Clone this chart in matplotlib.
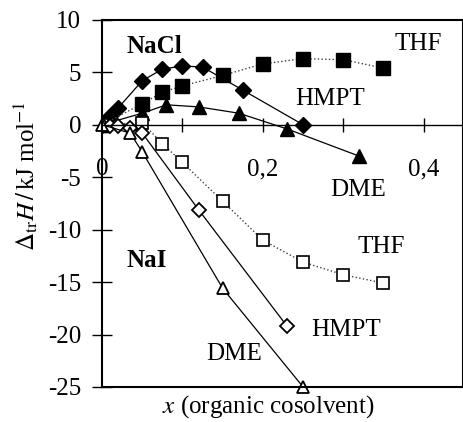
import numpy as np
import matplotlib
matplotlib.use('Agg')
import matplotlib.pyplot as plt

plt.rcParams['font.family'] = ['Liberation Serif', 'DejaVu Serif']
plt.rcParams['mathtext.fontset'] = 'stix'
plt.rcParams['axes.unicode_minus'] = False

# NaCl series (filled markers)
x_nacl_thf = [0, 0.05, 0.075, 0.10, 0.15, 0.20, 0.25, 0.30, 0.35]
y_nacl_thf = [0, 2.0, 3.1, 3.7, 4.7, 5.8, 6.3, 6.2, 5.4]
x_nacl_hmpt = [0, 0.01, 0.02, 0.05, 0.075, 0.10, 0.125, 0.175, 0.25]
y_nacl_hmpt = [0, 0.8, 1.6, 4.2, 5.3, 5.6, 5.5, 3.3, 0]
x_nacl_dme = [0, 0.05, 0.08, 0.12, 0.17, 0.23, 0.32]
y_nacl_dme = [0, 1.1, 1.9, 1.7, 1.1, -0.4, -3.0]

# NaI series (open markers)
x_nai_thf = [0, 0.05, 0.075, 0.10, 0.15, 0.20, 0.25, 0.30, 0.35]
y_nai_thf = [0, 0.2, -1.8, -3.6, -7.3, -11.0, -13.1, -14.3, -15.1]
x_nai_hmpt = [0, 0.01, 0.02, 0.035, 0.05, 0.12, 0.23]
y_nai_hmpt = [0, -0.1, -0.1, -0.3, -0.8, -8.1, -19.2]
x_nai_dme = [0, 0.035, 0.05, 0.15, 0.25]
y_nai_dme = [0, -0.8, -2.6, -15.6, -25]

fig = plt.figure(figsize=(4.64, 4.22), dpi=100)
ax = fig.add_axes([0.22, 0.083, 0.778, 0.87])

dot = dict(color='0.25', lw=1.0, ls=':')
sol = dict(color='k', lw=0.9, ls='-')

ax.plot(x_nacl_hmpt, y_nacl_hmpt, marker='D', ms=8, mfc='k', mec='k', **sol)
ax.plot(x_nacl_dme, y_nacl_dme, marker='^', ms=10, mfc='k', mec='k', **sol)
ax.plot(x_nacl_thf, y_nacl_thf, marker='s', ms=9.5, mfc='k', mec='k', **dot)

ax.plot(x_nai_thf, y_nai_thf, marker='s', ms=9, mfc='white', mec='k', mew=1.2, **dot)
ax.plot(x_nai_hmpt, y_nai_hmpt, marker='D', ms=7, mfc='white', mec='k', mew=1.3, **sol)
ax.plot(x_nai_dme, y_nai_dme, marker='^', ms=8.5, mfc='white', mec='k', mew=1.3,
        clip_on=False, **sol)

ax.set_xlim(0, 0.449)
ax.set_ylim(-25, 10)

# x axis drawn through zero, box closed with a separate bottom line
ax.spines['bottom'].set_position(('data', 0))
ax.spines['bottom'].set_linewidth(1.0)
for s in ['left', 'top', 'right']:
    ax.spines[s].set_linewidth(1.5)
ax.plot([0, 1], [0, 0], transform=ax.transAxes, color='k', lw=1.5, clip_on=False)

ax.set_xticks([0, 0.2, 0.4])
ax.set_xticklabels(['0', '0,2', '0,4'])
ax.set_xticks([0.1, 0.3], minor=True)
ax.tick_params(axis='x', which='both', direction='inout', length=10, width=1.0,
               labelsize=18, pad=19)
ax.set_yticks(np.arange(-25, 11, 5))
ax.tick_params(axis='y', direction='inout', length=14, width=1.0, labelsize=18, pad=8)

ax.set_xlabel(r'$x$ (organic cosolvent)', fontsize=18)
ax.xaxis.set_label_coords(0.46, -0.018)
ax.set_ylabel(r'$\Delta_{\rm tr}H\,/\,$kJ mol$^{-1}$', fontsize=18)
ax.yaxis.set_label_coords(-0.172, 0.575)

ax.text(0.065, 7.5, 'NaCl', fontsize=18, fontweight='bold', ha='center', va='center')
ax.text(0.055, -12.9, 'NaI', fontsize=18, fontweight='bold', ha='center', va='center')

ax.text(0.393, 7.7, 'THF', fontsize=18, ha='center', va='center')
ax.text(0.283, 2.5, 'HMPT', fontsize=18, ha='center', va='center')
ax.text(0.319, -6.2, 'DME', fontsize=18, ha='center', va='center')

ax.text(0.347, -11.7, 'THF', fontsize=18, ha='center', va='center')
ax.text(0.304, -19.6, 'HMPT', fontsize=18, ha='center', va='center')
ax.text(0.164, -21.9, 'DME', fontsize=18, ha='center', va='center')

fig.savefig('out.png', dpi=100)
